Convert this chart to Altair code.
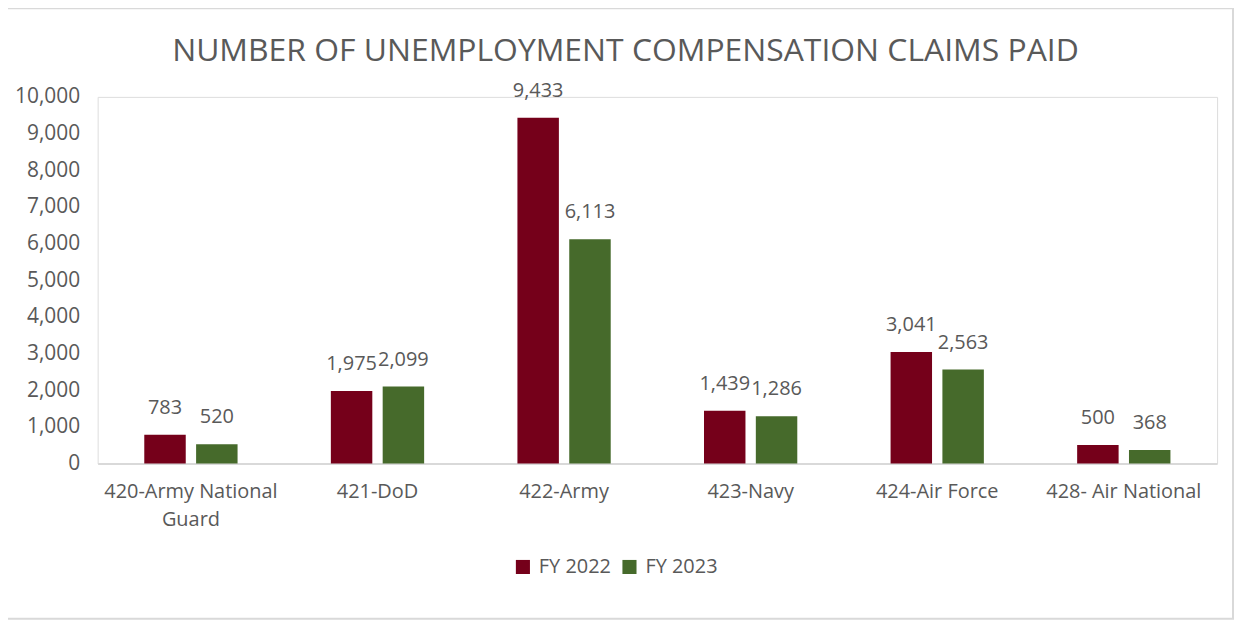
import altair as alt
import pandas as pd

title_text = "NUMBER OF UNEMPLOYMENT COMPENSATION CLAIMS PAID"
categories = ["420-Army National Guard", "421-DoD", "422-Army", "423-Navy", "424-Air Force", "428- Air National"]
fy2022 = [783, 1975, 9433, 1439, 3041, 500]
fy2023 = [520, 2099, 6113, 1286, 2563, 368]
series = ["FY 2022", "FY 2023"]
colors = ["#75001A", "#466A2B"]

rows = []
for c, a, b in zip(categories, fy2022, fy2023):
    rows.append({"cat": c, "year": series[0], "val": a})
    rows.append({"cat": c, "year": series[1], "val": b})
df = pd.DataFrame(rows)

FONT = "Open Sans"
GRAY = "#595959"
W, H = 1124, 368

x_enc = alt.X("cat:N", sort=categories, title=None,
              scale=alt.Scale(paddingInner=0.5, paddingOuter=0.25),
              axis=alt.Axis(labelAngle=0, labelFontSize=20, labelColor=GRAY, labelFont=FONT,
                            ticks=False, domainColor="#D9D9D9", domainWidth=2, labelPadding=18,
                            labelLineHeight=28,
                            labelExpr="datum.label == '420-Army National Guard' ? ['420-Army National', 'Guard'] : datum.label"))
xo_enc = alt.XOffset("year:N", sort=series, scale=alt.Scale(paddingInner=0.2))
y_enc = alt.Y("val:Q", title=None,
              scale=alt.Scale(domain=[0, 10000]),
              axis=alt.Axis(values=list(range(0, 10001, 1000)), format=",.0f", grid=False, domain=False,
                            ticks=False, labelFontSize=21, labelColor=GRAY, labelFont=FONT, labelPadding=18))

base = alt.Chart(df)
bars = base.mark_bar().encode(
    x=x_enc, xOffset=xo_enc, y=y_enc,
    color=alt.Color("year:N", sort=series, scale=alt.Scale(domain=series, range=colors),
                    legend=alt.Legend(title=None, orient="none", direction="horizontal",
                                      legendX=417, legendY=462, symbolType="square", symbolSize=200,
                                      labelFontSize=20, labelColor=GRAY, labelFont=FONT,
                                      columnPadding=8, labelOffset=6)),
)
labels = base.mark_text(dy=-17, fontSize=20, color=GRAY, font=FONT, baseline="bottom").encode(
    x=x_enc, xOffset=xo_enc, y=y_enc,
    text=alt.Text("val:Q", format=",.0f"),
)
one = alt.Chart(pd.DataFrame({"t": [title_text]}))
border = one.mark_rect(fill=None, stroke="#D9D9D9", strokeWidth=2).encode(
    x=alt.value(-91), x2=alt.value(1140), y=alt.value(-89), y2=alt.value(524)
)
title = one.mark_text(fontSize=32, font=FONT, color=GRAY, align="center", baseline="alphabetic").encode(
    x=alt.value(530), y=alt.value(-36), text="t:N"
)

chart = alt.layer(border, title, bars, labels).properties(
    width=W, height=H,
    autosize=alt.AutoSizeParams(type="none"),
    padding={"left": 90, "top": 88, "right": 20, "bottom": 160},
).configure_view(stroke=None).configure(background="white")

chart.save("out.html", embed_options={"renderer": "svg", "actions": False})
